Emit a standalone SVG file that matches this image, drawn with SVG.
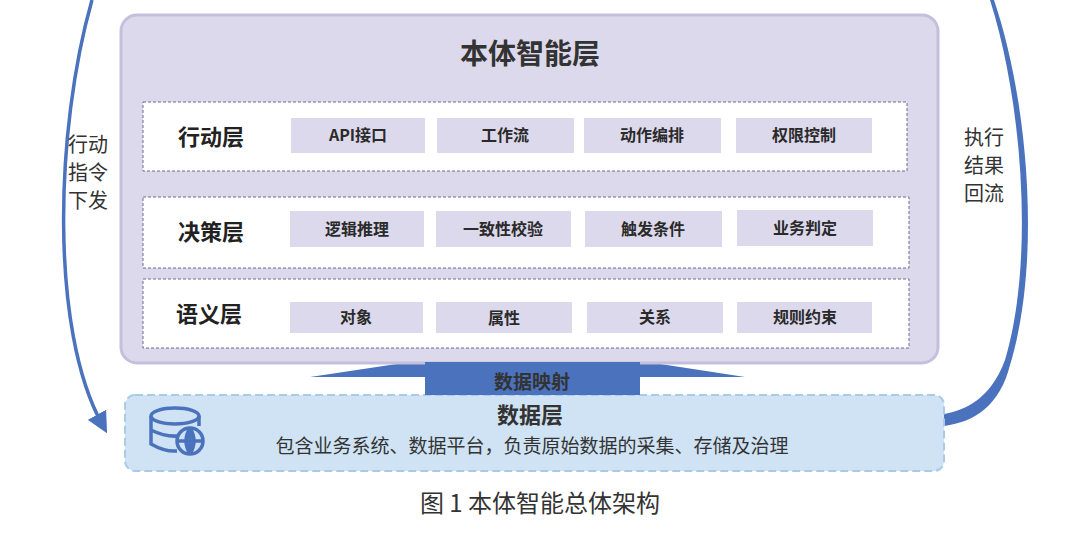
<svg xmlns="http://www.w3.org/2000/svg" width="1080" height="545" viewBox="0 0 1080 545">
<style>
text{font-family:"Noto Sans CJK SC","Noto Sans",sans-serif;fill:#333}
.row{fill:#fff;stroke:#6e6a8c;stroke-width:1;stroke-dasharray:3 2}
.it{fill:#dcd9ec}
.it-t{font-size:16px;font-weight:700;text-anchor:middle;fill:#2a2a2a}
.rl{font-size:22px;font-weight:700;fill:#222}
.side{font-size:20px;fill:#333}
</style>
<defs>
<marker id="ah" markerWidth="6" markerHeight="6" refX="3" refY="3" orient="auto" markerUnits="strokeWidth">
<path d="M0,0 L6,3 L0,6 z" fill="#4a72bd"/>
</marker>
</defs>
<rect width="1080" height="545" fill="#fff"/>
<g id="connectors">
<path d="M92,0 C55,130 50,330 102,424" fill="none" stroke="#4a72bd" stroke-width="3.5" marker-end="url(#ah)"/>
<path d="M990,0 C1022,100 1035,260 1005,360 C990,400 965,410 944,414 L944,426 C975,422 1000,405 1010,365 C1042,260 1028,100 994,0 z" fill="#4a72bd"/>
</g>
<g id="mapping">
<polygon points="310,377 530,344 745,377" fill="#4a72bd"/>
<rect x="425" y="362" width="215" height="36" fill="#4a72bd"/>
</g>
<g id="ontology">
<rect x="121" y="15" width="817" height="348" rx="16" fill="#dcd9ec" stroke="#c3bfdc" stroke-width="3"/>
<text x="530" y="64" font-size="28" font-weight="700" text-anchor="middle" fill="#333">本体智能层</text>
</g>
<g id="action">
<rect class="row" x="143" y="102" width="764" height="69"/>
<text class="rl" x="178" y="145">行动层</text>
<rect class="it" x="291" y="118" width="134" height="35"/><text class="it-t" x="358" y="141">API接口</text>
<rect class="it" x="437" y="118" width="137" height="35"/><text class="it-t" x="505" y="141">工作流</text>
<rect class="it" x="584" y="118" width="137" height="35"/><text class="it-t" x="652" y="141">动作编排</text>
<rect class="it" x="736" y="118" width="136" height="35"/><text class="it-t" x="804" y="141">权限控制</text>
</g>
<g id="decision">
<rect class="row" x="143" y="197" width="766" height="71"/>
<text class="rl" x="178" y="240">决策层</text>
<rect class="it" x="290" y="211" width="134" height="36"/><text class="it-t" x="357" y="235">逻辑推理</text>
<rect class="it" x="436" y="211" width="135" height="36"/><text class="it-t" x="503" y="235">一致性校验</text>
<rect class="it" x="585" y="211" width="137" height="36"/><text class="it-t" x="653" y="235">触发条件</text>
<rect class="it" x="737" y="210" width="136" height="36"/><text class="it-t" x="805" y="234">业务判定</text>
</g>
<g id="semantic">
<rect class="row" x="143" y="279" width="766" height="69"/>
<text class="rl" x="176" y="322">语义层</text>
<rect class="it" x="290" y="302" width="133" height="31"/><text class="it-t" x="356" y="323">对象</text>
<rect class="it" x="436" y="302" width="136" height="31"/><text class="it-t" x="504" y="324">属性</text>
<rect class="it" x="587" y="302" width="136" height="31"/><text class="it-t" x="655" y="323">关系</text>
<rect class="it" x="737" y="302" width="135" height="31"/><text class="it-t" x="805" y="323">规则约束</text>
</g>
<g id="data">
<rect x="125" y="395" width="819" height="76" rx="10" fill="#cfe3f4" stroke="#a9cbe8" stroke-width="2" stroke-dasharray="8 4"/>
<rect x="425" y="362" width="215" height="33" fill="#4a72bd"/>
<text x="532" y="389" font-size="19" font-weight="700" text-anchor="middle" fill="#e8eefa">数据映射</text>
<text x="530" y="423" font-size="22" font-weight="700" text-anchor="middle" fill="#222">数据层</text>
<text x="532" y="453" font-size="19" text-anchor="middle" fill="#333">包含业务系统、数据平台，负责原始数据的采集、存储及治理</text>
<g fill="none" stroke="#4a72bd" stroke-width="3.5">
<ellipse cx="175" cy="416" rx="24" ry="8"/>
<path d="M151,416 V444 Q165,452 177,451 M151,430 Q165,437 178,436"/>
<path d="M199,416 V426"/>
<circle cx="190" cy="441" r="13"/>
<path d="M177,441 H203 M190,428 V454 M190,428 Q182,441 190,454 M190,428 Q198,441 190,454"/>
</g>
</g>
<g id="labels">
<text class="side" x="68" y="152">行动</text>
<text class="side" x="68" y="180">指令</text>
<text class="side" x="68" y="208">下发</text>
<text class="side" x="964" y="145">执行</text>
<text class="side" x="964" y="173">结果</text>
<text class="side" x="964" y="201">回流</text>
</g>
<text x="540" y="512" font-size="24" text-anchor="middle" fill="#333">图 1 本体智能总体架构</text>
</svg>
